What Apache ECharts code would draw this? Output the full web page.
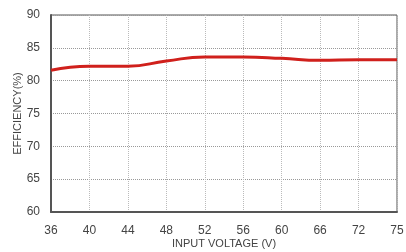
<!DOCTYPE html>
<html><head><meta charset="utf-8">
<script src="https://cdn.jsdelivr.net/npm/echarts@6/dist/echarts.min.js"></script>
<style>html,body{margin:0;padding:0;background:#fff}#c{width:406px;height:252px}</style>
</head><body><div id="c"></div>
<script>
var categories = ['36','40','44','48','52','56','60','66','72','75'];
var efficiency = [81.6, 82.2, 82.2, 83.0, 83.6, 83.6, 83.4, 83.1, 83.2, 83.2];
var yTicks = [60, 65, 70, 75, 80, 85, 90];

var chart = echarts.init(document.getElementById('c'));
chart.setOption({
  animation: false,
  grid: {left: 51, right: 9, top: 15, bottom: 40, show: true, borderColor: '#555', borderWidth: 1,
         containLabel: false, outerBoundsMode: 'none'},
  xAxis: {
    type: 'category', data: categories, boundaryGap: false,
    name: 'INPUT VOLTAGE (V)', nameLocation: 'middle', nameGap: 26, nameMoveOverlap: false,
    nameTextStyle: {fontFamily: 'Liberation Sans', fontSize: 11, color: '#444'},
    axisLine: {lineStyle: {color: '#555', width: 2}},
    axisTick: {show: false},
    axisLabel: {fontFamily: 'Liberation Sans', fontSize: 12, color: '#444', margin: 13},
    splitLine: {show: true, lineStyle: {color: '#bbb', type: 'dotted'}}
  },
  yAxis: {
    type: 'value', min: yTicks[0], max: yTicks[yTicks.length-1], interval: 5,
    name: 'EFFICIENCY(%)', nameLocation: 'middle', nameGap: 28, nameMoveOverlap: false,
    nameTextStyle: {fontFamily: 'Liberation Sans', fontSize: 11, color: '#444'},
    axisLine: {show: true, lineStyle: {color: '#555', width: 2}},
    axisTick: {show: false},
    axisLabel: {fontFamily: 'Liberation Sans', fontSize: 12, color: '#444', margin: 11},
    splitLine: {show: true, lineStyle: {color: '#999', type: 'dotted'}}
  },
  series: [{
    type: 'line', data: efficiency, smooth: true, symbol: 'none',
    lineStyle: {color: '#d0201c', width: 3}
  }]
});
</script></body></html>
